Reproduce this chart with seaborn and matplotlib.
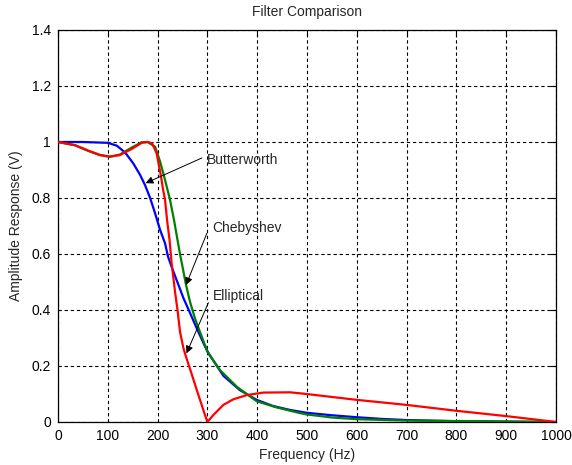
import matplotlib
matplotlib.use("Agg")
import matplotlib.pyplot as plt
import seaborn as sns
import pandas as pd

# Butterworth response
butter_f = [0, 50, 100, 118, 135, 151, 165, 175, 185, 195, 205, 215, 221, 228, 242, 252,
            265, 278, 292, 300, 332, 365, 399, 432, 466, 499, 550, 600, 650, 700, 800, 900, 1000]
butter_v = [1.0, 1.0, 0.997, 0.987, 0.962, 0.924, 0.882, 0.845, 0.80, 0.745, 0.686, 0.638,
            0.59, 0.555, 0.489, 0.442, 0.39, 0.337, 0.282, 0.252, 0.165, 0.114, 0.079, 0.057,
            0.043, 0.033, 0.024, 0.017, 0.011, 0.007, 0.003, 0.001, 0.0]

# Chebyshev response
cheby_f = [0, 34, 61, 84, 104, 124, 148, 168, 180, 195, 205, 215, 225, 233, 240, 246, 250,
           257, 265, 275, 285, 295, 302, 325, 359, 399, 439, 483, 499, 550, 600, 700, 800,
           900, 1000]
cheby_v = [1.0, 0.988, 0.968, 0.953, 0.947, 0.955, 0.98, 0.999, 1.0, 0.983, 0.93, 0.864,
           0.793, 0.721, 0.65, 0.59, 0.555, 0.49, 0.43, 0.37, 0.322, 0.275, 0.245, 0.186,
           0.126, 0.074, 0.052, 0.033, 0.027, 0.016, 0.01, 0.005, 0.003, 0.002, 0.0]

# Elliptical response
ellip_f = [0, 34, 61, 84, 104, 124, 148, 168, 180, 189, 198, 205, 208, 211, 215, 219, 224,
           228, 235, 240, 245, 252, 256, 265, 278, 292, 300, 312, 332, 352, 379, 412, 466,
           499, 600, 700, 800, 900, 1000]
ellip_v = [1.0, 0.989, 0.969, 0.954, 0.948, 0.953, 0.975, 0.997, 1.0, 0.995, 0.96, 0.895,
           0.864, 0.83, 0.793, 0.721, 0.65, 0.57, 0.465, 0.40, 0.322, 0.263, 0.239, 0.19,
           0.118, 0.042, 0.0, 0.025, 0.061, 0.081, 0.096, 0.105, 0.106, 0.10, 0.079, 0.061,
           0.04, 0.021, 0.0]

x_ticks = [0, 100, 200, 300, 400, 500, 600, 700, 800, 900, 1000]
y_ticks = [0, 0.2, 0.4, 0.6, 0.8, 1.0, 1.2, 1.4]
y_tick_labels = ["0", "0.2", "0.4", "0.6", "0.8", "1", "1.2", "1.4"]

sns.set_style("white")
plt.rcParams["font.family"] = ["Liberation Sans", "DejaVu Sans"]

fig = plt.figure(figsize=(5.72, 4.65), dpi=100)
ax = fig.add_axes([0.1014, 0.0925, 0.8706, 0.843])

series = [
    ("Butterworth", butter_f, butter_v, "#0000ff"),
    ("Chebyshev", cheby_f, cheby_v, "#008000"),
    ("Elliptical", ellip_f, ellip_v, "#ff0000"),
]
for name, f, v, color in series:
    df = pd.DataFrame({"Frequency": f, "Amplitude": v})
    sns.lineplot(data=df, x="Frequency", y="Amplitude", ax=ax, color=color,
                 linewidth=1.6, sort=False, estimator=None, zorder=3)

ax.set_xlim(0, 1000)
ax.set_ylim(0, 1.4)
ax.set_xticks(x_ticks)
ax.set_yticks(y_ticks)
ax.set_yticklabels(y_tick_labels)
ax.grid(True, color="black", linestyle=(0, (3, 2.5)), linewidth=0.8)
ax.set_axisbelow(True)
for s in ax.spines.values():
    s.set_color("black")
    s.set_linewidth(0.9)
ax.tick_params(direction="in", length=4, width=0.8, top=True, right=True,
               labelsize=10, pad=5, colors="black")

ax.set_title("Filter Comparison", fontsize=10, pad=10)
ax.set_xlabel("Frequency (Hz)", fontsize=10, labelpad=4)
ax.set_ylabel("Amplitude Response (V)", fontsize=10, labelpad=6)

# Labels with arrows pointing to each curve
notes = [
    ("Butterworth", (299, 0.936), (289, 0.943), (176, 0.853)),
    ("Chebyshev", (309, 0.693), (299, 0.674), (257, 0.489)),
    ("Elliptical", (311, 0.45), (302, 0.426), (258, 0.245)),
]
for text, tpos, start, tip in notes:
    ax.text(tpos[0], tpos[1], text, fontsize=10, ha="left", va="center", zorder=5)
    ax.annotate("", xy=tip, xytext=start,
                arrowprops=dict(arrowstyle="-|>", color="black", lw=0.7,
                                mutation_scale=11, shrinkA=0, shrinkB=0),
                zorder=5)

fig.savefig("out.png", dpi=100, facecolor="white")
